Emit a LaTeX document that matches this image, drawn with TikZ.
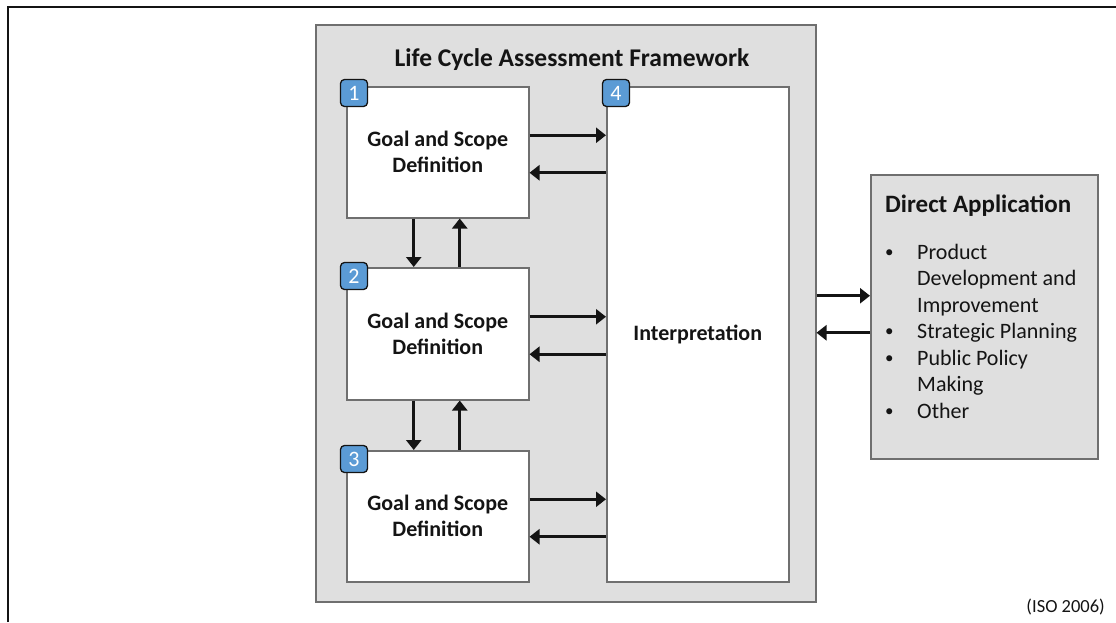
\documentclass[tikz,border=0pt]{standalone}
\usepackage{fontspec}
\setmainfont{Carlito}
\usetikzlibrary{arrows.meta}
\definecolor{panel}{HTML}{DFDFDF}
\definecolor{edgegrey}{HTML}{6F6F6F}
\definecolor{badgeblue}{HTML}{5B9BD5}
\definecolor{ink}{HTML}{141414}
\begin{document}
\begin{tikzpicture}[x=1pt,y=-1pt,
  panelbox/.style={draw=edgegrey, line width=1.5pt, fill=panel, anchor=north west, inner sep=0pt},
  stagebox/.style={draw=edgegrey, line width=1.5pt, fill=white, anchor=north west, inner sep=0pt,
    minimum width=182pt, align=center, text=ink, font=\fontsize{22}{26}\selectfont\bfseries},
  badge/.style={draw=ink, line width=1.3pt, fill=badgeblue, rounded corners=4pt,
    minimum width=27pt, minimum height=27pt, inner sep=0pt, text=white,
    font=\fontsize{22}{26}\selectfont},
  arr/.style={draw=ink, line width=3pt, -{Triangle[length=10pt,width=15pt]}},
  listline/.style={anchor=base west, inner sep=0pt, text=ink, font=\fontsize{22}{26}\selectfont},
  dot/.style={anchor=base west, inner sep=0pt, text=ink, font=\fontsize{17}{20}\selectfont}
]
\useasboundingbox (0,0) rectangle (1116,622);

% page frame (left and top rules only)
\coordinate (frameBL) at (8,622);
\coordinate (frameTL) at (8,7);
\coordinate (frameTR) at (1116,7);
\draw[line width=1.8pt, color=ink] (frameBL) -- (frameTL) -- (frameTR);

% framework panel
\node[panelbox, minimum width=500pt, minimum height=577pt] (fw) at (315,24) {};
\node[anchor=base, inner sep=0pt, text=ink, font=\fontsize{25.5}{30}\selectfont\bfseries] (title) at (572,66)
  {Life Cycle Assessment Framework};

% phase boxes
\node[stagebox, minimum height=131pt] (b1) at (346,86) {Goal and Scope\\Definition};
\node[stagebox, minimum height=132pt] (b2) at (346,267) {Goal and Scope\\Definition};
\node[stagebox, minimum height=131pt] (b3) at (346,450) {Goal and Scope\\Definition};
\node[stagebox, minimum height=495pt] (b4) at (606,86) {Interpretation};

% number badges
\node[badge] (n1) at ([xshift=8pt,yshift=-7pt]b1.north west) {1};
\node[badge] (n2) at ([xshift=8pt,yshift=-9pt]b2.north west) {2};
\node[badge] (n3) at ([xshift=8pt,yshift=-9pt]b3.north west) {3};
\node[badge] (n4) at ([xshift=10pt,yshift=-7pt]b4.north west) {4};

% vertical exchanges between phases
\draw[arr] ([xshift=-24pt]b1.south) -- ([xshift=-24pt]b2.north);
\draw[arr] ([xshift=22pt]b2.north) -- ([xshift=22pt]b1.south);
\draw[arr] ([xshift=-24pt]b2.south) -- ([xshift=-24pt]b3.north);
\draw[arr] ([xshift=22pt]b3.north) -- ([xshift=22pt]b2.south);

% exchanges with interpretation
\foreach \b in {b1,b2,b3}{
  \draw[arr] ([yshift=17pt]\b.east) -- ([yshift=17pt]\b.east -| b4.west);
  \draw[arr] ([yshift=-20.5pt]\b.east -| b4.west) -- ([yshift=-20.5pt]\b.east);
}

% direct application panel
\node[panelbox, minimum width=227pt, minimum height=284pt] (da) at (870,174) {};
\node[anchor=base west, inner sep=0pt, text=ink, font=\fontsize{25}{30}\selectfont\bfseries] (datitle) at (885,212)
  {Direct Application};
\node[dot] (u1) at (885,257) {\textbullet};
\node[listline] (l1) at (917,259) {Product};
\node[listline] (l2) at (917,285.5) {Development and};
\node[listline] (l3) at (917,312) {Improvement};
\node[dot] (u2) at (885,336.5) {\textbullet};
\node[listline] (l4) at (917,338.5) {Strategic Planning};
\node[dot] (u3) at (885,363) {\textbullet};
\node[listline] (l5) at (917,365) {Public Policy};
\node[listline] (l6) at (917,391.5) {Making};
\node[dot] (u4) at (885,416) {\textbullet};
\node[listline] (l7) at (917,418) {Other};

\draw[arr] ([yshift=21pt]da.west -| fw.east) -- ([yshift=21pt]da.west);
\draw[arr] ([yshift=-16pt]da.west) -- ([yshift=-16pt]da.west -| fw.east);

% source note
\node[anchor=base east, inner sep=0pt, text=ink, font=\fontsize{18.5}{22}\selectfont] (src) at (1105,612) {(ISO 2006)};
\end{tikzpicture}
\end{document}
